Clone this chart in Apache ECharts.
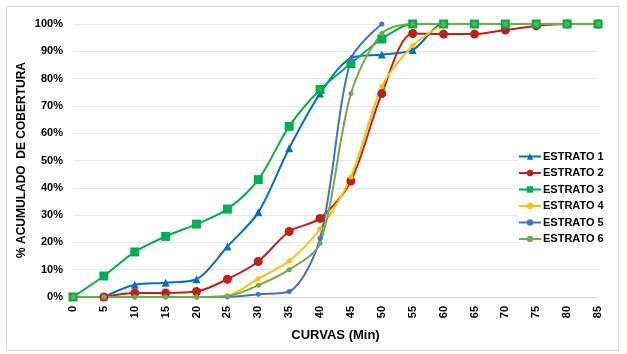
<!DOCTYPE html>
<html>
<head>
<meta charset="utf-8">
<script src="https://cdn.jsdelivr.net/npm/echarts@6/dist/echarts.min.js"></script>
<style>
  html, body { margin: 0; padding: 0; background: #fff; }
  #frame { position: absolute; left: 6px; top: 6px; width: 611px; height: 343px; border: 1px solid #d9d9d9; }
  #chart { width: 627px; height: 354px; }
</style>
</head>
<body>
<div id="frame"></div>
<div id="chart"></div>
<script>
// minutos (eje X)
const curvas = [0, 5, 10, 15, 20, 25, 30, 35, 40, 45, 50, 55, 60, 65, 70, 75, 80, 85];

// % acumulado por estrato (null = sin dato)
const estrato1 = [null, 0, 4.5, 5.2, 6.5, 18.5, 31, 54.5, 74.5, 87.5, 88.8, 90.5, 100, 100, 100, 100, 100, 100];
const estrato2 = [null, 0, 1.5, 1.5, 2, 6.5, 13, 24, 28.8, 42.5, 74.5, 96.5, 96.3, 96.3, 97.8, 99.3, 100, 100];
const estrato3 = [0, 7.7, 16.5, 22.2, 26.7, 32.2, 43, 62.5, 76, 85.5, 94.5, 100, 100, 100, 100, 100, 100, 100];
const estrato4 = [0, 0, 0, 0, 0, 0.5, 6.7, 13.2, 25, 44, 77, 92, 100, null, null, null, null, null];
const estrato5 = [0, 0, 0, 0, 0, 0, 1, 2, 21.5, 87, 100, null, null, null, null, null, null, null];
const estrato6 = [0, 0, 0, 0, 0, 0.3, 4.3, 10, 19.7, 74.5, 96.5, 100, 100, 100, 100, 100, 100, 100];

const nombres = ['ESTRATO 1', 'ESTRATO 2', 'ESTRATO 3', 'ESTRATO 4', 'ESTRATO 5', 'ESTRATO 6'];
const colores = ['#0070C0', '#C0201A', '#00B050', '#FFC000', '#4472C4', '#70AD47'];
const simbolos = ['triangle', 'circle', 'rect', 'circle', 'circle', 'circle'];
const tamanos = [8, 9, 9, 5, 5, 5];

const valores = [estrato1, estrato2, estrato3, estrato4, estrato5, estrato6];

const chart = echarts.init(document.getElementById('chart'));

const series = valores.map((arr, i) => ({
    name: nombres[i],
    type: 'line',
    smooth: 0.3,
    connectNulls: false,
    data: curvas.map((c, j) => [c, arr[j]]),
    symbol: simbolos[i],
    symbolSize: tamanos[i],
    showAllSymbol: true,
    lineStyle: { color: colores[i], width: 2 },
    itemStyle: { color: colores[i], borderWidth: 0 },
    emphasis: { disabled: true }
}));

chart.setOption({
    animation: false,
    textStyle: { fontFamily: 'Liberation Sans, Arial, sans-serif' },
    grid: { left: 73, right: 29, top: 24, bottom: 57, outerBoundsMode: 'none' },
    // título del eje Y, colocado a mano
    graphic: [{
        type: 'text',
        x: 22,
        y: 160,
        rotation: Math.PI / 2,
        style: {
            text: '% ACUMULADO  DE COBERTURA',
            fill: '#000',
            font: 'bold 12px "Liberation Sans", Arial, sans-serif',
            align: 'center',
            verticalAlign: 'middle'
        }
    }],
    legend: {
        orient: 'vertical',
        left: 518,
        top: 151,
        itemGap: 5.5,
        itemWidth: 22,
        itemHeight: 8,
        backgroundColor: '#fff',
        padding: [0, 0, 0, 0],
        textStyle: { fontWeight: 'bold', fontSize: 11, color: '#000', padding: [0, 0, 0, -3] },
        data: nombres
    },
    xAxis: {
        type: 'value',
        min: 0,
        max: 85,
        interval: 5,
        name: 'CURVAS (Min)',
        nameLocation: 'middle',
        nameGap: 32,
        nameTextStyle: { fontWeight: 'bold', fontSize: 13, color: '#000' },
        axisLine: { show: true, lineStyle: { color: '#d9d9d9' } },
        axisTick: { show: false },
        splitLine: { show: false },
        axisLabel: { rotate: 90, fontWeight: 'bold', fontSize: 11, color: '#000', margin: 9 }
    },
    yAxis: {
        type: 'value',
        min: 0,
        max: 100,
        interval: 10,
        axisLine: { show: false },
        axisTick: { show: false },
        splitLine: { lineStyle: { color: '#e6e6e6' } },
        axisLabel: { formatter: '{value}%', fontWeight: 'bold', fontSize: 11, color: '#000', margin: 10 }
    },
    series: series
});
</script>
</body>
</html>
